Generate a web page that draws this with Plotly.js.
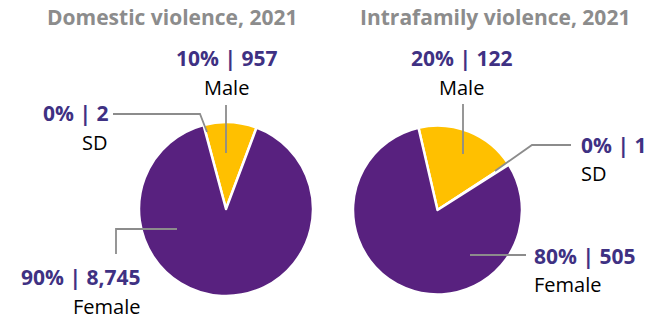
<!DOCTYPE html>
<html>
<head>
<meta charset="utf-8">
<script src="https://cdn.plot.ly/plotly-3.0.1.min.js"></script>
<style>html,body{margin:0;padding:0;background:#fff;}#chart{width:661px;height:320px;}</style>
</head>
<body>
<div id="chart"></div>
<script>
// ---- data ----
var domesticTitle = "Domestic violence, 2021";
var domesticLabels = ["SD", "Male", "Female"];
var domesticValues = [2, 957, 8745];
var domesticPct = ["0%", "10%", "90%"];

var intraTitle = "Intrafamily violence, 2021";
var intraLabels = ["Male", "SD", "Female"];
var intraValues = [122, 1, 505];
var intraPct = ["20%", "0%", "80%"];

var sliceColors = {"Female": "#58217f", "Male": "#ffc000", "SD": "#ffc000"};

// ---- helpers ----
var W = 661, H = 320;
function px(x) { return x / W; }
function py(y) { return 1 - y / H; }
function fmt(v) { return v.toLocaleString("en-US"); }
function pctText(pcts, vals, i) { return pcts[i] + " | " + fmt(vals[i]); }

var FONT = "Open Sans, Noto Sans, sans-serif";
var PURPLE_TXT = "#3f3183";
var GRAY_TITLE = "#8c8c8c";
var LEADER = "#8c8c8c";

var traces = [
  {
    type: "pie", labels: domesticLabels, values: domesticValues,
    sort: false, direction: "clockwise", rotation: -15,
    marker: {colors: domesticLabels.map(function(l){return sliceColors[l];}), line: {color: "#ffffff", width: 2.5}},
    textinfo: "none", hoverinfo: "label+value+percent", showlegend: false,
    domain: {x: [px(139), px(313)], y: [py(296), py(122)]}
  },
  {
    type: "pie", labels: intraLabels, values: intraValues,
    sort: false, direction: "clockwise", rotation: -13,
    marker: {colors: intraLabels.map(function(l){return sliceColors[l];}), line: {color: "#ffffff", width: 2.5}},
    textinfo: "none", hoverinfo: "label+value+percent", showlegend: false,
    domain: {x: [px(353), px(522)], y: [py(294.5), py(125.5)]}
  }
];

function ann(text, x, y, xanchor, bold, color, size) {
  return {
    text: bold ? "<b>" + text + "</b>" : text,
    x: px(x), y: py(y), xref: "paper", yref: "paper",
    xanchor: xanchor, yanchor: "middle", showarrow: false,
    font: {family: FONT, size: size || (bold ? 21 : 20), color: color || "#000"}
  };
}

var dI = function(l){ return domesticLabels.indexOf(l); };
var iI = function(l){ return intraLabels.indexOf(l); };

var annotations = [
  ann(domesticTitle, 172, 17, "center", true, GRAY_TITLE, 21),
  ann(intraTitle, 495, 17, "center", true, GRAY_TITLE, 21),

  ann(pctText(domesticPct, domesticValues, dI("Male")), 226, 58, "center", true, PURPLE_TXT),
  ann("Male", 226, 87, "center", false),
  ann(pctText(domesticPct, domesticValues, dI("SD")), 110, 113, "right", true, PURPLE_TXT),
  ann("SD", 109, 142, "right", false),
  ann(pctText(domesticPct, domesticValues, dI("Female")), 142, 277, "right", true, PURPLE_TXT),
  ann("Female", 142, 306, "right", false),

  ann(pctText(intraPct, intraValues, iI("Male")), 462, 58, "center", true, PURPLE_TXT),
  ann("Male", 462, 87, "center", false),
  ann(pctText(intraPct, intraValues, iI("SD")), 579, 145, "left", true, PURPLE_TXT),
  ann("SD", 579, 173, "left", false),
  ann(pctText(intraPct, intraValues, iI("Female")), 532, 256, "left", true, PURPLE_TXT),
  ann("Female", 532, 284, "left", false)
];

function leader(points) {
  var d = points.map(function(p, i){ return (i ? "L" : "M") + px(p[0]) + "," + py(p[1]); }).join(" ");
  return {type: "path", xref: "paper", yref: "paper", path: d, line: {color: LEADER, width: 1.8}};
}

var shapes = [
  leader([[226, 105], [226, 153]]),
  leader([[113, 114], [200, 114], [207, 132]]),
  leader([[116, 254], [116, 229], [177, 229]]),
  leader([[463, 104], [463, 154]]),
  leader([[571, 145], [532, 145], [495, 171]]),
  leader([[470, 255], [526, 255]])
];

var layout = {
  width: W, height: H,
  margin: {l: 0, r: 0, t: 0, b: 0},
  paper_bgcolor: "#ffffff",
  showlegend: false,
  annotations: annotations,
  shapes: shapes,
  font: {family: FONT}
};

Plotly.newPlot("chart", traces, layout, {displayModeBar: false, staticPlot: true});
</script>
</body>
</html>
